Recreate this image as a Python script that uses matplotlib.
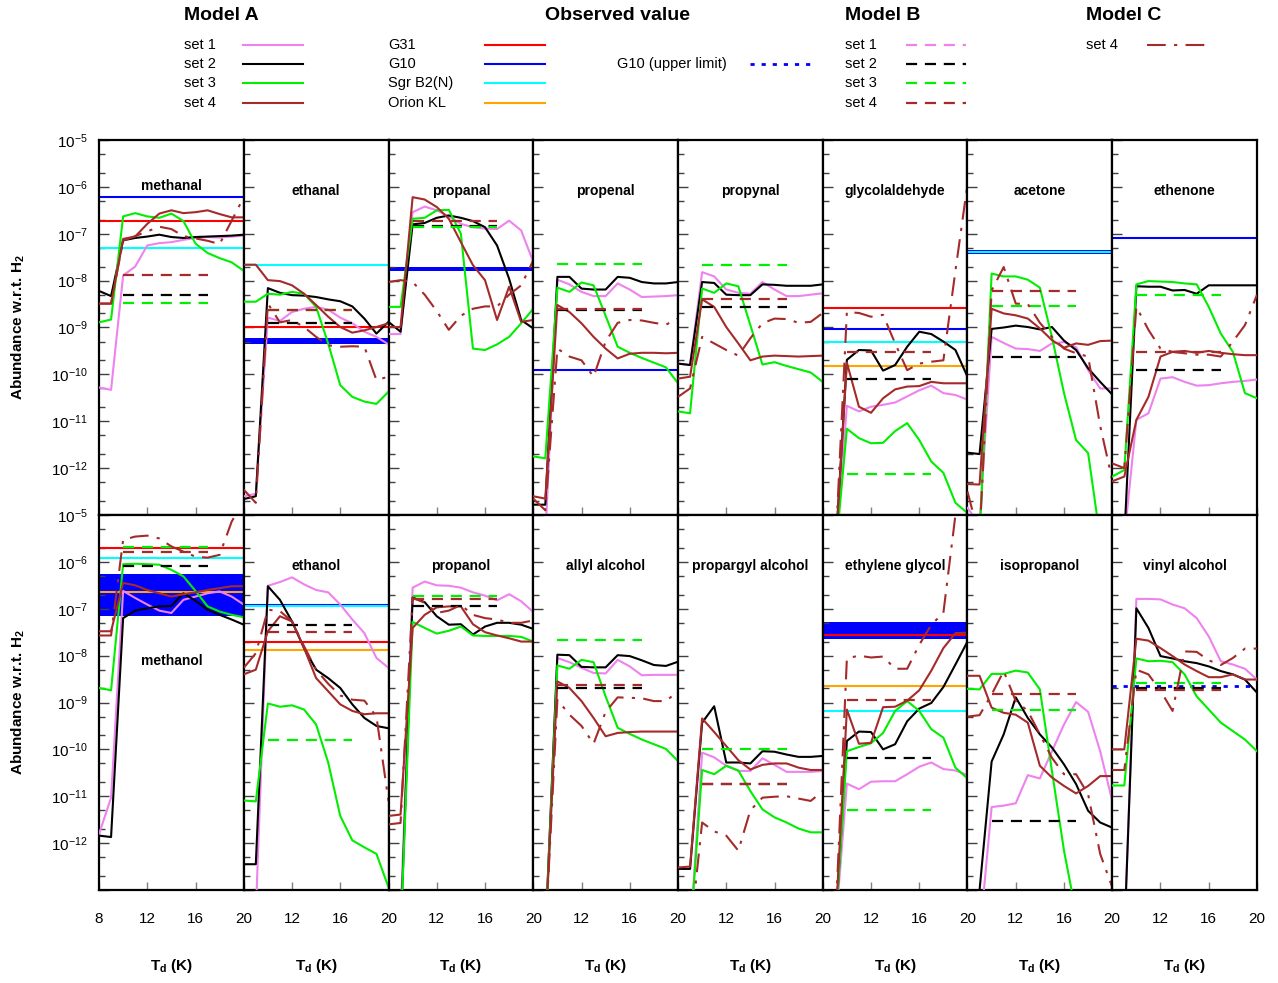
import numpy as np
import matplotlib
matplotlib.use('Agg')
import matplotlib.pyplot as plt
from matplotlib.lines import Line2D
from matplotlib.ticker import FixedLocator, LogLocator, FuncFormatter, NullFormatter

plt.rcParams['font.family'] = ['Liberation Sans', 'DejaVu Sans']
plt.rcParams['mathtext.fontset'] = 'custom'
plt.rcParams['mathtext.rm'] = 'Liberation Sans'
plt.rcParams['mathtext.it'] = 'Liberation Sans:italic'
plt.rcParams['mathtext.bf'] = 'Liberation Sans:bold'

# dust temperature grid (K)
Td = [8, 9, 10, 11, 12, 13, 14, 15, 16, 17, 18, 19, 20]
# model B is a single value per set, drawn over this range
TdB = [10, 17]

# all abundances below are log10(X/H2); -14 means "off the bottom"
# ---------------- top row ----------------
methanal_A = [
    [-10.28, -10.33, -7.89, -7.70, -7.25, -7.20, -7.18, -7.13, -7.09, -7.07, -7.08, -7.06, -7.04],
    [-8.22, -8.33, -7.14, -7.09, -7.06, -7.02, -7.07, -7.09, -7.07, -7.06, -7.05, -7.04, -7.02],
    [-8.89, -8.83, -6.63, -6.56, -6.63, -6.66, -6.57, -6.73, -7.21, -7.41, -7.52, -7.61, -7.79],
    [-8.49, -8.49, -7.11, -7.06, -6.79, -6.57, -6.50, -6.56, -6.54, -6.50, -6.58, -6.65, -6.65],
]
methanal_B = [None, -8.30, -8.47, -7.89]
methanal_C = [-8.49, -8.49, -7.15, -7.05, -6.95, -6.85, -6.90, -7.05, -7.10, -7.15, -7.22, -6.72, -6.22]
methanal_obs = [('G10', -6.21), ('G31', -6.72), ('SgrB2', -7.30)]

ethanal_A = [
    [-12.60, -12.55, -8.79, -8.86, -8.67, -8.60, -8.56, -8.62, -8.79, -8.91, -9.09, -9.20, -9.36],
    [-12.66, -12.60, -8.16, -8.26, -8.31, -8.32, -8.35, -8.40, -8.44, -8.55, -8.81, -9.13, -8.88],
    [-8.45, -8.45, -8.28, -8.30, -8.24, -8.28, -8.56, -9.34, -10.23, -10.48, -10.58, -10.63, -10.37],
    [-7.66, -7.66, -7.99, -8.01, -8.10, -8.28, -8.52, -8.77, -8.99, -9.11, -9.06, -8.99, -8.91],
]
ethanal_B = [None, -8.91, -8.62, -8.62]
ethanal_C = [-12.46, -12.74, -8.49, -8.89, -8.84, -8.99, -9.20, -9.38, -9.41, -9.40, -9.41, -10.12, -10.05]
ethanal_obs = [('SgrB2', -7.66), ('G31', -8.99), ('G10', (-9.36, -9.23))]

propanal_A = [
    [-9.14, -9.14, -6.54, -6.42, -6.50, -6.63, -6.79, -6.86, -6.89, -6.90, -6.72, -6.93, -7.60],
    [-8.88, -9.09, -6.80, -6.77, -6.66, -6.61, -6.66, -6.73, -6.86, -7.25, -7.96, -8.84, -9.02],
    [-8.56, -8.56, -6.68, -6.66, -6.50, -6.49, -7.00, -9.45, -9.48, -9.36, -9.20, -8.91, -8.60],
    [-8.99, -8.99, -6.22, -6.27, -6.43, -6.68, -7.18, -7.67, -7.99, -8.84, -8.13, -8.88, -8.84],
]
propanal_B = [None, -6.84, -6.86, -6.72]
propanal_C = [-8.03, -7.99, -8.03, -8.30, -8.65, -9.05, -8.75, -8.60, -8.55, -8.55, -8.30, -8.10, -7.57]
propanal_obs = [('G10', (-7.79, -7.70))]

propenal_A = [
    [-13.5, -13.5, -7.98, -8.08, -8.24, -8.33, -8.33, -8.06, -8.19, -8.35, -8.34, -8.33, -8.31],
    [-12.78, -12.78, -7.92, -7.92, -8.17, -8.19, -8.19, -7.92, -7.94, -8.03, -8.06, -8.06, -8.03],
    [-11.75, -11.79, -8.15, -8.24, -8.04, -8.10, -8.75, -9.41, -9.54, -9.65, -9.75, -9.85, -10.19],
    [-12.60, -12.65, -8.52, -8.67, -8.91, -9.20, -9.45, -9.66, -9.56, -9.54, -9.54, -9.55, -9.54],
]
propenal_B = [None, -8.62, -7.64, -8.61]
propenal_C = [-12.65, -12.90, -9.45, -9.62, -9.70, -10.05, -9.30, -8.90, -8.84, -8.85, -8.90, -8.94, -8.81]
propenal_obs = [('G10', -9.91)]

propynal_A = [
    [-9.77, -9.80, -7.82, -7.91, -8.19, -8.26, -8.28, -8.03, -8.19, -8.33, -8.33, -8.30, -8.27],
    [-9.77, -9.80, -8.03, -8.05, -8.30, -8.31, -8.31, -8.08, -8.09, -8.11, -8.11, -8.11, -8.08],
    [-10.79, -10.83, -8.17, -8.26, -8.06, -8.12, -8.95, -9.79, -9.74, -9.82, -9.89, -9.96, -10.16],
    [-10.09, -10.05, -8.40, -8.56, -8.99, -9.34, -9.70, -9.62, -9.60, -9.61, -9.62, -9.61, -9.60],
]
propynal_B = [None, -8.56, -7.67, -8.40]
propynal_C = [-10.48, -10.30, -9.20, -9.34, -9.48, -9.60, -9.23, -8.91, -8.81, -8.82, -8.90, -8.88, -8.69]
propynal_obs = []

glycolaldehyde_A = [
    [-14, -14, -10.67, -10.79, -10.69, -10.65, -10.60, -10.47, -10.34, -10.24, -10.40, -10.44, -10.54],
    [-14, -14, -9.69, -9.48, -9.49, -9.92, -9.80, -9.41, -9.09, -9.14, -9.30, -9.48, -10.05],
    [-14, -14, -11.16, -11.36, -11.47, -11.46, -11.21, -11.04, -11.40, -11.86, -12.10, -12.74, -12.96],
    [-14, -14, -9.75, -10.69, -10.82, -10.51, -10.32, -10.26, -10.25, -10.16, -10.19, -10.19, -10.19],
]
glycolaldehyde_B = [None, -10.09, -12.13, -9.52]
glycolaldehyde_C = [-14, -14, -8.67, -8.69, -8.77, -8.73, -9.34, -9.91, -9.77, -9.73, -9.70, -7.79, -5.94]
glycolaldehyde_obs = [('G31', -8.58), ('G10', -9.03), ('SgrB2', -9.30), ('Orion', -9.82)]

acetone_A = [
    [-12.85, -13.20, -9.20, -9.33, -9.45, -9.46, -9.50, -9.34, -9.31, -9.42, -9.91, -10.30, -10.30],
    [-11.67, -11.70, -9.03, -9.00, -8.96, -8.99, -9.04, -8.99, -9.28, -9.48, -9.87, -10.16, -10.43],
    [-13.5, -13.5, -7.85, -7.91, -7.91, -7.98, -8.15, -9.20, -10.40, -11.40, -11.68, -13.5, -13.5],
    [-12.34, -12.35, -8.60, -8.70, -8.74, -8.81, -9.02, -9.27, -9.43, -9.34, -9.37, -9.29, -9.28],
]
acetone_B = [None, -9.62, -8.54, -8.23]
acetone_C = [-12.50, -13.50, -8.21, -7.71, -8.49, -8.50, -8.90, -9.20, -9.45, -9.55, -9.62, -11.10, -12.25]
acetone_obs = [('G10', (-7.43, -7.35)), ('SgrB2', -7.39)]

ethenone_A = [
    [-13.5, -13.5, -10.97, -10.83, -10.09, -10.06, -10.16, -10.24, -10.23, -10.19, -10.16, -10.14, -10.11],
    [-13.5, -13.5, -8.12, -8.13, -8.13, -8.21, -8.20, -8.28, -8.10, -8.10, -8.10, -8.10, -8.10],
    [-12.18, -12.04, -8.08, -8.01, -8.02, -8.03, -8.06, -8.08, -8.56, -9.13, -9.52, -10.40, -10.51],
    [-12.28, -12.18, -10.97, -10.48, -9.62, -9.52, -9.50, -9.54, -9.50, -9.54, -9.57, -9.59, -9.59],
]
ethenone_B = [None, -9.91, -8.30, -9.52]
ethenone_C = [-11.90, -12.00, -8.56, -9.05, -9.45, -9.52, -9.55, -9.58, -9.58, -9.62, -9.30, -8.95, -8.30]
ethenone_obs = [('G10', -7.09)]

# ---------------- bottom row ----------------
methanol_A = [
    [-11.81, -11.03, -6.62, -6.77, -6.91, -7.04, -7.09, -6.81, -6.74, -6.67, -6.63, -6.74, -6.91],
    [-11.84, -11.87, -7.20, -7.04, -6.99, -6.95, -6.94, -6.67, -6.83, -7.02, -7.13, -7.23, -7.34],
    [-8.69, -8.74, -6.05, -6.04, -6.05, -6.06, -6.17, -6.31, -6.62, -6.95, -7.06, -7.13, -7.18],
    [-7.48, -7.48, -6.45, -6.50, -6.60, -6.67, -6.74, -6.69, -6.65, -6.60, -6.56, -6.52, -6.52],
]
methanol_B = [None, -6.09, -5.69, -5.78]
methanol_C = [-7.57, -7.57, -5.53, -5.46, -5.44, -5.50, -5.67, -5.78, -5.89, -5.91, -5.85, -5.14, -4.70]
methanol_obs = [('G10', (-7.16, -6.26)), ('G31', -5.71), ('SgrB2', -5.92), ('Orion', -6.65)]

ethanol_A = [
    [-13.5, -13.5, -6.51, -6.43, -6.33, -6.48, -6.60, -6.65, -6.91, -7.23, -7.52, -8.05, -8.26],
    [-12.45, -12.45, -6.52, -6.81, -7.27, -7.84, -8.30, -8.48, -8.69, -9.04, -9.33, -9.50, -9.55],
    [-11.09, -11.11, -9.02, -9.09, -9.06, -9.15, -9.47, -10.28, -11.42, -11.94, -12.09, -12.23, -12.94],
    [-8.40, -8.30, -7.48, -7.16, -7.27, -7.84, -8.48, -8.76, -9.04, -9.18, -9.25, -9.23, -9.23],
]
ethanol_B = [None, -7.35, -9.81, -7.50]
ethanol_C = [-8.26, -7.95, -7.02, -7.05, -7.27, -7.80, -8.30, -8.60, -8.85, -8.94, -8.96, -9.30, -11.10]
ethanol_obs = [('G10', -6.91), ('SgrB2', -6.95), ('G31', -7.70), ('Orion', -7.88)]

propanol_A = [
    [-13.2, -13.6, -6.55, -6.42, -6.50, -6.51, -6.55, -6.65, -6.72, -6.82, -6.69, -6.84, -7.07],
    [-14, -14, -6.76, -6.86, -7.16, -7.34, -7.33, -7.55, -7.38, -7.30, -7.30, -7.34, -7.43],
    [-14, -14, -7.28, -7.41, -7.53, -7.47, -7.38, -7.57, -7.58, -7.58, -7.58, -7.60, -7.70],
    [-11.42, -11.39, -7.41, -7.13, -6.97, -6.95, -6.95, -7.33, -7.50, -7.57, -7.63, -7.70, -7.70],
]
propanol_B = [None, -6.94, -6.72, -6.79]
propanol_C = [-11.60, -11.57, -6.77, -6.87, -7.09, -7.04, -6.92, -7.13, -7.20, -7.23, -7.30, -7.30, -7.25]
propanol_obs = []

allyl_A = [
    [-14, -14, -8.05, -8.14, -8.26, -8.37, -8.38, -8.09, -8.23, -8.42, -8.41, -8.41, -8.41],
    [-13.0, -14, -7.98, -7.99, -8.24, -8.25, -8.25, -7.99, -8.01, -8.10, -8.20, -8.22, -8.13],
    [-14, -14, -8.21, -8.28, -8.09, -8.14, -8.87, -9.54, -9.67, -9.79, -9.89, -9.99, -10.25],
    [-14, -14, -8.55, -8.69, -8.97, -9.33, -9.72, -9.65, -9.63, -9.62, -9.62, -9.62, -9.62],
]
allyl_B = [None, -8.70, -7.67, -8.63]
allyl_C = [-14, -14, -8.94, -9.26, -9.50, -9.88, -9.20, -8.89, -8.90, -8.91, -8.97, -8.97, -8.76]
allyl_obs = []

propargyl_A = [
    [-14, -14, -10.07, -10.17, -10.35, -10.46, -10.46, -10.19, -10.33, -10.48, -10.48, -10.48, -10.46],
    [-12.55, -12.55, -9.43, -9.08, -10.28, -10.28, -10.30, -10.04, -10.05, -10.11, -10.16, -10.16, -10.14],
    [-14, -14, -10.44, -10.53, -10.35, -10.45, -10.89, -11.28, -11.45, -11.56, -11.69, -11.77, -11.77],
    [-12.52, -12.50, -9.34, -9.63, -9.93, -10.23, -10.43, -10.33, -10.30, -10.30, -10.39, -10.44, -10.44],
]
propargyl_B = [None, -10.73, -10.00, -10.73]
propargyl_C = [-14, -14, -11.56, -11.75, -11.84, -12.16, -11.30, -11.03, -11.01, -11.00, -11.05, -11.10, -10.89]
propargyl_obs = []

glycol_A = [
    [-14, -14, -10.73, -10.85, -10.69, -10.68, -10.68, -10.53, -10.37, -10.28, -10.42, -10.45, -10.55],
    [-14, -14, -9.82, -9.62, -9.63, -10.00, -9.89, -9.40, -9.13, -9.01, -8.67, -8.19, -7.70],
    [-14, -14, -10.04, -9.95, -9.87, -9.65, -9.18, -8.97, -9.18, -9.57, -9.75, -10.39, -10.62],
    [-14, -14, -9.15, -9.88, -9.86, -9.10, -9.09, -8.96, -8.74, -8.32, -7.84, -7.52, -7.51],
]
glycol_B = [None, -10.19, -11.30, -8.94]
glycol_C = [-14, -14, -8.06, -8.00, -8.04, -8.02, -8.28, -8.28, -7.77, -7.34, -7.09, -5.00, -4.50]
glycol_obs = [('G10', (-7.65, -7.28)), ('G31', -7.57), ('Orion', -8.64), ('SgrB2', -9.19)]

isopropanol_A = [
    [-14, -14, -11.23, -11.20, -11.15, -10.55, -10.62, -10.04, -9.47, -8.99, -9.20, -10.04, -11.10],
    [-14, -13.0, -10.26, -9.68, -8.89, -9.33, -9.68, -9.96, -10.32, -10.74, -11.31, -11.56, -11.67],
    [-8.71, -8.72, -8.39, -8.39, -8.32, -8.36, -8.72, -10.46, -12.16, -13.5, -14, -14, -14],
    [-8.43, -8.43, -9.11, -9.22, -9.26, -9.43, -10.35, -10.60, -10.78, -10.94, -10.78, -10.57, -10.57],
]
isopropanol_B = [None, -11.52, -9.17, -8.82]
isopropanol_C = [-9.30, -9.27, -8.83, -8.33, -8.97, -9.18, -9.68, -10.18, -10.53, -10.53, -10.96, -12.23, -12.94]
isopropanol_obs = []

vinyl_A = [
    [-14, -14, -6.79, -6.79, -6.80, -6.91, -6.99, -7.20, -7.59, -8.12, -8.19, -8.28, -8.51],
    [-14, -14, -6.99, -7.41, -8.01, -8.06, -8.12, -8.16, -8.23, -8.33, -8.40, -8.51, -8.79],
    [-10.77, -10.77, -8.06, -8.12, -8.11, -8.14, -8.40, -8.87, -9.15, -9.43, -9.61, -9.79, -10.04],
    [-10.00, -10.00, -7.64, -7.68, -7.84, -8.01, -8.19, -8.33, -8.46, -8.46, -8.40, -8.51, -8.51],
]
vinyl_B = [None, -8.69, -8.58, -8.74]
vinyl_C = [-10.44, -10.44, -8.30, -8.40, -8.75, -9.18, -7.91, -7.92, -8.10, -8.20, -8.05, -7.85, -7.85]
vinyl_obs = [('G10u', -8.64)]

top_row = [
    ('methanal', methanal_A, methanal_B, methanal_C, methanal_obs),
    ('ethanal', ethanal_A, ethanal_B, ethanal_C, ethanal_obs),
    ('propanal', propanal_A, propanal_B, propanal_C, propanal_obs),
    ('propenal', propenal_A, propenal_B, propenal_C, propenal_obs),
    ('propynal', propynal_A, propynal_B, propynal_C, propynal_obs),
    ('glycolaldehyde', glycolaldehyde_A, glycolaldehyde_B, glycolaldehyde_C, glycolaldehyde_obs),
    ('acetone', acetone_A, acetone_B, acetone_C, acetone_obs),
    ('ethenone', ethenone_A, ethenone_B, ethenone_C, ethenone_obs),
]
bottom_row = [
    ('methanol', methanol_A, methanol_B, methanol_C, methanol_obs),
    ('ethanol', ethanol_A, ethanol_B, ethanol_C, ethanol_obs),
    ('propanol', propanol_A, propanol_B, propanol_C, propanol_obs),
    ('allyl alcohol', allyl_A, allyl_B, allyl_C, allyl_obs),
    ('propargyl alcohol', propargyl_A, propargyl_B, propargyl_C, propargyl_obs),
    ('ethylene glycol', glycol_A, glycol_B, glycol_C, glycol_obs),
    ('isopropanol', isopropanol_A, isopropanol_B, isopropanol_C, isopropanol_obs),
    ('vinyl alcohol', vinyl_A, vinyl_B, vinyl_C, vinyl_obs),
]

set_colors = ['violet', 'black', '#00ee00', '#a52a2a']
obs_colors = {'G31': '#ff0000', 'G10': '#0000ff', 'SgrB2': '#00ffff', 'Orion': '#ffa500', 'G10u': '#0000ff'}
dash_B = (0, (5, 3.5))
dash_C = (0, (9, 4, 1.5, 4))
dot_up = (0, (1.5, 2.5))


def draw_panel(ax, title, A, B, C, obs, title_y):
    for src, v in obs:
        if isinstance(v, tuple):
            ax.axhspan(10.0**v[0], 10.0**v[1], color=obs_colors[src], lw=0, zorder=1)
        elif src == 'G10u':
            ax.axhline(10.0**v, color=obs_colors[src], ls=dot_up, lw=2, zorder=2)
        else:
            ax.axhline(10.0**v, color=obs_colors[src], lw=1.5, zorder=2)
    for k, y in enumerate(A):
        ax.plot(Td, 10.0**np.array(y), color=set_colors[k], lw=1.5, zorder=3)
    for k, y in enumerate(B):
        if y is not None:
            ax.plot(TdB, [10.0**y] * len(TdB), color=set_colors[k], ls=dash_B, lw=1.6, zorder=4)
    ax.plot(Td, 10.0**np.array(C), color=set_colors[3], ls=dash_C, lw=1.5, zorder=4)

    ax.set_yscale('log')
    ax.set_ylim(1e-13, 1e-5)
    ax.set_xlim(8, 20)
    ax.text(0.5, title_y, title, transform=ax.transAxes, ha='center', va='center',
            fontsize=10, fontweight='bold')


def ylab(v, pos):
    e = int(round(np.log10(v)))
    if e <= -13:
        return ''
    return r'$10^{%d}$' % e


fig, axes = plt.subplots(2, 8, figsize=(12.78, 9.83), dpi=100)
plt.subplots_adjust(left=99/1278, right=1257/1278, top=1-140/983, bottom=1-890/983,
                    wspace=0, hspace=0)

for r, row in enumerate([top_row, bottom_row]):
    for c, (name, A, B, C, obs) in enumerate(row):
        ax = axes[r, c]
        ty = 0.865
        if name == 'methanal':
            ty = 0.877
        if name == 'methanol':
            ty = 0.61
        draw_panel(ax, name, A, B, C, obs, ty)

        for s in ax.spines.values():
            s.set_linewidth(1.6)
        ax.yaxis.set_major_locator(FixedLocator(10.0**np.arange(-13, -4)))
        ax.yaxis.set_minor_locator(LogLocator(base=10, subs=(2.0, 5.0), numticks=30))
        ax.tick_params(axis='y', which='major', direction='in', length=7, width=1,
                       color='0.25', left=True, right=False, labelsize=11, pad=8)
        ax.tick_params(axis='y', which='minor', direction='in', length=4, width=1,
                       color='0.25', left=True, right=False)
        if c == 0:
            ax.yaxis.set_major_formatter(FuncFormatter(ylab))
        else:
            ax.yaxis.set_major_formatter(NullFormatter())
        ax.yaxis.set_minor_formatter(NullFormatter())

        ax.set_xticks([8, 12, 16, 20])
        ax.tick_params(axis='x', direction='in', length=6, width=1, color='0.5',
                       top=False, bottom=True, labelsize=11, pad=16)
        if r == 0:
            ax.tick_params(axis='x', labelbottom=False)
        else:
            if c == 0:
                ax.set_xticklabels(['8', '12', '16', '20'])
            else:
                ax.set_xticklabels(['', '12', '16', '20'])
            xc = (ax.get_position().x0 + ax.get_position().x1) / 2
            fig.text(xc, 1 - 966/983, r'T$_\mathbf{d}$ (K)', ha='center', va='center',
                     fontsize=11, fontweight='bold')

# y labels, one per row
for yc in [1 - 327.5/983, 1 - 702.5/983]:
    fig.text(18/1278, yc, r'Abundance w.r.t. H$_\mathbf{2}$', rotation=90, ha='center',
             va='center', fontsize=11, fontweight='bold')

# ---------------- legend block at the top ----------------
def fx(px):
    return px / 1278


def fy(py):
    return 1 - py / 983


rows_y = [45, 64, 83, 103]
for txt, x in [('Model A', 184), ('Observed value', 545), ('Model B', 845), ('Model C', 1086)]:
    fig.text(fx(x), fy(16), txt, ha='left', va='center', fontsize=14, fontweight='bold')


def legend_entry(label, tx, lx0, lx1, yy, **kw):
    fig.text(fx(tx), fy(yy), label, ha='left', va='center', fontsize=10.5)
    fig.add_artist(Line2D([fx(lx0), fx(lx1)], [fy(yy), fy(yy)], transform=fig.transFigure, **kw))


for k in range(4):
    legend_entry('set %d' % (k + 1), 184, 243, 303, rows_y[k], color=set_colors[k], lw=1.5)
    legend_entry('set %d' % (k + 1), 845, 906, 966, rows_y[k], color=set_colors[k], lw=1.6, ls=dash_B)

obs_legend = [('G31', 'G31'), ('G10', 'G10'), ('Sgr B2(N)', 'SgrB2'), ('Orion KL', 'Orion')]
for k, (lab, key) in enumerate(obs_legend):
    legend_entry(lab, 388, 485, 545, rows_y[k], color=obs_colors[key], lw=1.5)

legend_entry('G10 (upper limit)', 617, 750, 810, rows_y[1], color=obs_colors['G10u'], lw=2, ls=dot_up)
legend_entry('set 4', 1086, 1147, 1207, rows_y[0], color=set_colors[3], lw=1.5, ls=dash_C)

fig.savefig('out.png', dpi=100)
